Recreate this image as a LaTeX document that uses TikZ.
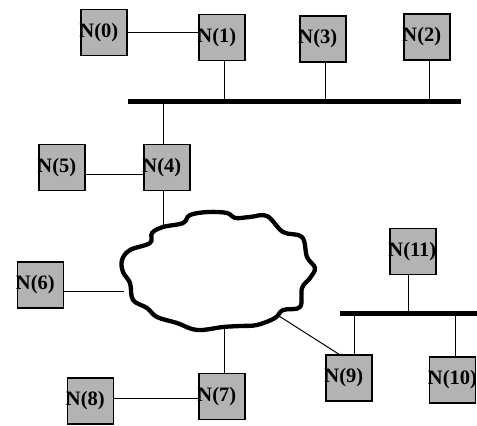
\documentclass[tikz,border=0pt]{standalone}
\usepackage{fontspec}
\setmainfont{Liberation Serif}
\usetikzlibrary{calc}
\definecolor{boxgray}{RGB}{179,179,179}
\tikzset{
  hostbox/.style={draw=black,line width=1.5pt,fill=boxgray,minimum width=46pt,minimum height=46pt,inner sep=0pt},
  hostlabel/.style={anchor=west,inner sep=0pt,font=\fontsize{20.5}{20.5}\selectfont\bfseries},
  wire/.style={line width=1pt},
  bus/.style={line width=5pt},
  cloudline/.style={line width=4.3pt,line join=round}
}
\newcommand{\host}[3]{\node[hostbox] (#1) at (#2) {}; \node[hostlabel] (#1t) at ([xshift=-1pt]#1.west) {#3};}
\begin{document}
\begin{tikzpicture}[x=1pt,y=-1pt]
\useasboundingbox (0,0) rectangle (477,426);
% buses
\coordinate (b1L) at (128,101.5);
\coordinate (b1R) at (461,101.5);
\coordinate (b2L) at (340,313.5);
\coordinate (b2R) at (477,313.5);
\draw[bus] (b1L) -- (b1R);
\draw[bus] (b2L) -- (b2R);
% cloud
\draw[cloudline] plot[smooth cycle,tension=0.6] coordinates {
(190,215) (208,212) (227,213) (235,218) (250,217) (267,216) (283,232) (302,237) (307,257)
(315,268) (310,278) (302,288) (300,307) (283,310) (275,318) (257,325) (240,326) (223,327)
(197,330) (177,323) (157,317) (147,308) (133,300) (130,283) (123,272) (122,260)
(130,250) (150,243) (152,233) (163,227) (183,223)};
\coordinate (cT) at (163,225);
\coordinate (cL) at (124,291);
\coordinate (cB) at (224,329);
\coordinate (cR) at (279,316);
% hosts
\host{n0}{104,32.5}{N(0)}
\host{n1}{222,37.5}{N(1)}
\host{n3}{323,39}{N(3)}
\host{n2}{427,37}{N(2)}
\host{n5}{62,167.5}{N(5)}
\host{n4}{167,167.5}{N(4)}
\host{n11}{413,251.5}{N(11)}
\host{n6}{40.5,285}{N(6)}
\host{n9}{349,378}{N(9)}
\host{n10}{452.5,380}{N(10)}
\host{n7}{222,396.5}{N(7)}
\host{n8}{90.5,401}{N(8)}
% connectors
\draw[wire] (n0.east) -- (n0.east -| n1.west);
\draw[wire] ([xshift=2pt]n1.south) -- ([xshift=2pt]n1.south |- b1L);
\draw[wire] ([xshift=2pt]n3.south) -- ([xshift=2pt]n3.south |- b1L);
\draw[wire] ([xshift=2pt]n2.south) -- ([xshift=2pt]n2.south |- b1L);
\draw[wire] ([xshift=-4pt]n4.north) -- ([xshift=-4pt]n4.north |- b1L);
\draw[wire] ($(n5.east)+(0,6.5)$) -- ($(n4.west)+(0,6.5)$);
\draw[wire] ([xshift=-4pt]n4.south) -- (cT);
\draw[wire] (n6.east |- cL) -- (cL);
\draw[wire] ([xshift=2pt]n7.north) -- (cB);
\draw[wire] (cR) -- ([xshift=-10pt]n9.north);
\draw[wire] ($(n7.west)+(0,1.5)$) coordinate (w87) (n8.east |- w87) -- (w87);
\draw[wire] ([xshift=-5pt]n11.south) -- ([xshift=-5pt]n11.south |- b2L);
\draw[wire] ([xshift=5pt]n9.north) -- ([xshift=5pt]n9.north |- b2L);
\draw[wire] ([xshift=2.5pt]n10.north) -- ([xshift=2.5pt]n10.north |- b2L);
\end{tikzpicture}
\end{document}
